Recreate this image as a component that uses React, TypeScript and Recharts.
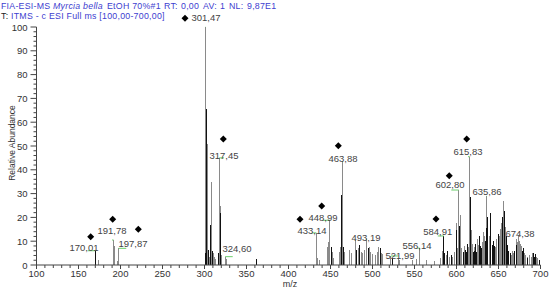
import { ComposedChart, Bar, Scatter, XAxis, YAxis, ReferenceLine } from 'recharts';

// axis ticks
const xMajorTicks = [100, 150, 200, 250, 300, 350, 400, 450, 500, 550, 600, 650, 700];
const yMajorTicks = [0, 10, 20, 30, 40, 50, 60, 70, 80, 90, 100];

// [m/z, relative abundance]
const grayPeaks: [number, number][] = [
  [173.6, 2.0], [191.78, 10.5], [192.5, 8.0], [196.8, 1.5], [197.87, 7.0],
  [301.47, 100], [303.3, 50.8], [306.2, 3.5], [307.4, 6.0], [308.5, 35.0], [310.4, 5.0], [311.5, 3.5], [313.0, 2.5],
  [317.45, 45.0], [319.3, 25.0], [320.5, 4.0], [324.6, 3.5], [326.5, 2.5],
  [433.14, 13.5], [435.0, 3.0], [437.0, 2.0], [446.7, 7.7], [448.2, 9.8], [448.99, 18.8], [452.0, 5.6], [453.5, 3.0],
  [461.3, 5.6], [462.5, 7.7], [463.88, 43.4], [467.0, 5.6], [472.4, 6.3], [474.5, 5.0],
  [480.0, 10.5], [483.0, 7.0], [486.5, 5.6], [488.5, 5.2], [490.0, 6.3], [493.19, 10.9], [496.4, 7.7], [498.0, 5.6],
  [500.5, 4.6], [503.5, 4.2], [506.0, 5.6], [507.6, 7.7], [511.0, 5.0], [512.5, 4.6],
  [521.99, 3.8], [530.5, 3.0], [532.0, 2.0], [548.0, 2.0], [552.0, 2.5], [556.14, 7.1], [564.5, 2.0], [574.4, 1.5],
  [580.4, 3.0], [583.6, 5.7], [588.3, 4.2], [591.5, 3.5], [595.0, 3.5], [597.4, 5.6], [600.2, 17.6], [601.4, 7.0],
  [602.8, 31.5], [605.0, 20.8], [606.0, 7.0], [610.0, 4.2], [614.0, 7.5], [615.83, 45.5], [618.0, 14.7], [622.0, 7.5],
  [626.0, 8.4], [628.0, 10.5], [631.5, 9.8], [633.5, 12.0], [635.86, 28.9], [637.5, 14.0], [641.0, 17.6], [644.5, 5.6],
  [647.0, 7.5], [649.5, 9.8], [651.5, 12.0], [653.5, 17.6], [655.5, 26.9], [658.7, 16.0], [662.5, 4.9], [665.0, 4.2],
  [668.0, 4.9], [673.0, 9.8], [674.38, 12.6], [675.5, 10.0], [677.0, 8.0], [682.5, 4.2], [685.0, 3.5], [687.5, 4.0],
  [691.0, 4.9], [695.0, 3.2], [697.0, 2.0],
  [609.0, 8.0], [619.0, 9.0], [625.0, 11.0], [632.5, 14.0], [639.5, 12.0], [648.0, 11.0], [652.5, 15.0],
  [656.2, 14.0], [666.5, 6.0], [672.0, 11.0], [676.3, 9.0], [680.5, 5.0], [689.0, 3.5], [696.0, 3.0],
];

const blackPeaks: [number, number][] = [
  [170.01, 6.0], [300.6, 4.9], [302.0, 65.5], [304.5, 6.5], [305.3, 4.0], [307.7, 16.8], [309.2, 6.0],
  [317.0, 5.0], [319.0, 21.8], [362.0, 2.4], [450.9, 7.7], [463.3, 29.4], [465.7, 7.7], [481.0, 6.3],
  [484.3, 8.5], [495.0, 7.0], [509.2, 7.0], [524.0, 2.8], [584.91, 12.2], [586.0, 5.0], [593.5, 4.0],
  [599.4, 14.7], [604.0, 16.5], [608.0, 5.6], [612.0, 5.6], [616.5, 28.7], [620.0, 5.6], [624.0, 5.6],
  [630.0, 7.0], [635.3, 15.5], [642.5, 8.4], [657.0, 22.8], [660.2, 8.4], [671.0, 8.4], [679.5, 7.0], [693.0, 3.5],
  [589.5, 6.0], [603.5, 12.0], [611.0, 6.5], [613.0, 9.0], [621.0, 6.0], [623.0, 9.0], [627.0, 12.0],
  [629.0, 8.0], [634.2, 10.0], [636.5, 20.0], [640.2, 22.0], [643.5, 10.0], [645.5, 8.0], [650.5, 13.0],
  [654.5, 20.0], [659.5, 12.0], [661.5, 6.0], [664.0, 5.0], [669.5, 6.0], [678.0, 6.0], [684.0, 3.0],
  [692.0, 5.0], [694.0, 4.5], [698.5, 2.0],
];

// filled diamond markers [m/z, abundance]
const diamondMarks: [number, number][] = [
  [164.5, 11.9], [190.7, 19.2], [221.2, 15.0], [276.8, 103.7], [322.4, 52.9], [413.7, 19.2],
  [439.5, 24.8], [459.3, 50.1], [575.6, 19.3], [591.4, 37.5], [612.1, 52.9],
];

// peak labels and where their text sits [m/z, abundance]
const labelTexts = [
  '170,01', '191,78', '197,87', '301,47', '317,45', '324,60', '433,14', '448,99', '463,88',
  '493,19', '521,99', '556,14', '584,91', '602,80', '615,83', '635,86', '674,38',
];
const labelAnchors: [number, number][] = [
  [156.5, 5.9], [189.9, 13.0], [214.9, 7.6], [301.8, 102.5], [323.2, 44.5], [338.7, 5.5], [427.9, 13.0],
  [441.0, 18.5], [464.9, 43.3], [492.3, 10.1], [532.7, 2.5], [553.0, 6.7], [577.7, 12.6], [592.3, 32.4],
  [613.7, 46.2], [636.3, 29.4], [675.6, 11.8],
];

const xTicks = xMajorTicks.flatMap((t, i) => (i === 0 ? [t] : [t - 40, t - 30, t - 20, t - 10, t]));
const yTicks = yMajorTicks.flatMap((t, i) => (i === 0 ? [t] : [t - 8, t - 6, t - 4, t - 2, t]));

const spectrum = [
  ...grayPeaks.map(([mz, v]) => ({ mz, gray: v, black: null as number | null })),
  ...blackPeaks.map(([mz, v]) => ({ mz, gray: null as number | null, black: v })),
].sort((a, b) => a.mz - b.mz);

const labelPoints = labelTexts.map((text, i) => ({ mz: labelAnchors[i][0], y: labelAnchors[i][1], text }));
const diamondPoints = diamondMarks.map(([mz, y]) => ({ mz, y }));

const allPeaks = [...grayPeaks, ...blackPeaks];
const flags = labelTexts.map((text, i) => {
  const mz = parseFloat(text.replace(',', '.'));
  const peak = allPeaks.find((p) => Math.abs(p[0] - mz) < 0.001);
  const v = peak ? peak[1] : 0;
  const d = Math.max(-9, Math.min(9, labelAnchors[i][0] - mz));
  return { x1: mz, x2: mz + d, y: v };
});

const FONT = '"Liberation Sans", Arial, sans-serif';
const AXIS = '#444';
const BLUE = '#4040d0';

const Stick = (props: any) => {
  const { x, y, width, height, fill } = props;
  if (!height || height <= 0) return null;
  return (
    <rect x={x + width / 2 - 0.5} y={y} width={1} height={height} fill={fill} shapeRendering="crispEdges" />
  );
};

const XTick = (props: any) => {
  const { x, y, payload } = props;
  const major = payload.value % 50 === 0;
  return (
    <g>
      <line x1={x} x2={x} y1={y} y2={y + (major ? 4 : 3)} stroke={AXIS} />
      {major && (
        <text x={x} y={y + 12} textAnchor="middle" fontSize={9.5} fill="#333" fontFamily={FONT}>
          {payload.value}
        </text>
      )}
    </g>
  );
};

const YTick = (props: any) => {
  const { x, y, payload } = props;
  const major = payload.value % 10 === 0;
  return (
    <g>
      <line x1={x - (major ? 6 : 3)} x2={x} y1={y} y2={y} stroke={AXIS} />
      {major && (
        <text x={x - 9} y={y + 3.5} textAnchor="end" fontSize={9.5} fill="#333" fontFamily={FONT}>
          {payload.value}
        </text>
      )}
    </g>
  );
};

const Diamond = (props: any) => {
  const { cx, cy } = props;
  return <polygon points={`${cx},${cy - 3.5} ${cx + 3.5},${cy} ${cx},${cy + 3.5} ${cx - 3.5},${cy}`} fill="#000" />;
};

const PeakLabel = (props: any) => {
  const { cx, cy, payload } = props;
  return (
    <text x={cx} y={cy} textAnchor="middle" fontSize={9.5} fill="#444" fontFamily={FONT}>
      {payload.text}
    </text>
  );
};

export default function App() {
  return (
    <div style={{ position: 'absolute', left: 0, top: 0, width: 550, height: 288, background: '#fff' }}>
      <ComposedChart
        width={550}
        height={288}
        data={spectrum}
        margin={{ top: 3.2, right: 9.5, bottom: 0, left: 0 }}
        barGap={0}
      >
        <XAxis
          dataKey="mz"
          type="number"
          domain={[100, 700]}
          ticks={xTicks}
          interval={0}
          tick={XTick}
          tickLine={false}
          tickSize={0}
          tickMargin={0}
          height={23}
          stroke={AXIS}
        />
        <YAxis
          type="number"
          domain={[0, 110]}
          ticks={yTicks}
          interval={0}
          tick={YTick}
          tickLine={false}
          tickSize={0}
          tickMargin={0}
          axisLine={false}
          width={36.5}
        />
        <ReferenceLine segment={[{ x: 100, y: 0 }, { x: 100, y: 100 }]} stroke={AXIS} />
        <Bar dataKey="gray" fill="#8a8a8a" barSize={1} shape={Stick} isAnimationActive={false} />
        <Bar dataKey="black" fill="#111" barSize={1} shape={Stick} isAnimationActive={false} />
        {flags.map((f, i) => (
          <ReferenceLine
            key={`flag-${i}`}
            segment={[{ x: f.x1, y: f.y }, { x: f.x2, y: f.y }]}
            stroke="#6ccf6c"
          />
        ))}
        <Scatter data={diamondPoints} dataKey="y" shape={Diamond} isAnimationActive={false} />
        <Scatter data={labelPoints} dataKey="y" shape={PeakLabel} isAnimationActive={false} />
      </ComposedChart>
      <svg
        width={550}
        height={288}
        style={{ position: 'absolute', left: 0, top: 0, pointerEvents: 'none' }}
        fontFamily={FONT}
      >
        <g fontSize={8.8} fill={BLUE} letterSpacing={0.25}>
          <text x={1} y={8.8}>FIA-ESI-MS</text>
          <text x={53} y={8.8} fontStyle="italic">Myrcia bella</text>
          <text x={107} y={8.8}>EtOH 70%#1</text>
          <text x={164} y={8.8}>RT:</text>
          <text x={181} y={8.8}>0,00</text>
          <text x={203} y={8.8}>AV:</text>
          <text x={220} y={8.8}>1</text>
          <text x={229} y={8.8}>NL:</text>
          <text x={247} y={8.8}>9,87E1</text>
          <text x={1} y={18.7} fill="#222">T:</text>
          <text x={11} y={18.7}>ITMS - c ESI Full ms [100,00-700,00]</text>
        </g>
        <text x={15} y={143} fontSize={8.5} fill="#333" textAnchor="middle" transform="rotate(-90 15 143)">
          Relative Abundance
        </text>
        <text x={290} y={287} fontSize={9} fill="#333" textAnchor="middle">
          m/z
        </text>
      </svg>
    </div>
  );
}
